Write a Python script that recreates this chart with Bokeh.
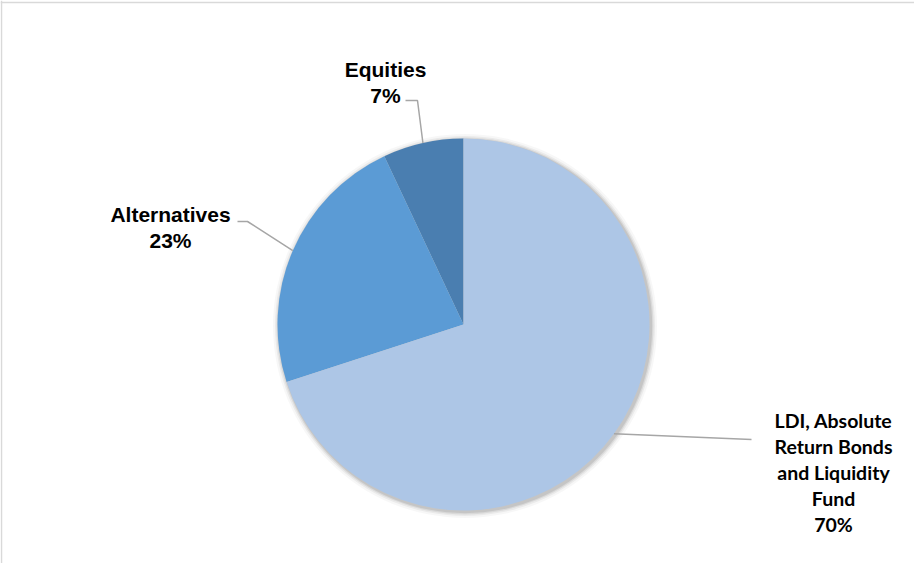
import math
from bokeh.plotting import figure
from bokeh.models import Range1d, ColumnDataSource, Span
from bokeh.core.properties import value
from bokeh.embed import file_html
from bokeh.resources import INLINE

# ---- data ----
categories = ["Equities", "Alternatives", "LDI, Absolute Return Bonds and Liquidity Fund"]
shares = [7, 23, 70]
colors = ["#4a7eb0", "#5b9bd5", "#adc6e6"]
label_lines = [["Equities", "7%"], ["Alternatives", "23%"],
               ["LDI, Absolute", "Return Bonds", "and Liquidity", "Fund", "70%"]]

W, H = 914, 563
p = figure(width=W, height=H, output_backend="svg", toolbar_location=None,
           x_range=Range1d(0, W), y_range=Range1d(0, H), min_border=0,
           tools="")
p.axis.visible = False
p.grid.visible = False
p.outline_line_color = None
p.background_fill_color = "white"
p.border_fill_color = "white"

def px(x, y):
    # page pixel -> data
    return x - 8, 571 - y

# frame lines (left and top only visible in the reference)
p.add_layout(Span(location=1, dimension="height", line_color="#d9d9d9", line_width=1.5))
p.add_layout(Span(location=px(0, 10)[1], dimension="width", line_color="#d9d9d9", line_width=1.5))

cx, cy = px(471, 332)
R = 186

# soft shadow
for dr, a in [(6, 0.03), (4, 0.05), (2.5, 0.07), (1.2, 0.09)]:
    p.circle(x=[cx + 1.5], y=[cy - 1.5], radius=R + dr, fill_color="#000000",
             fill_alpha=a, line_color=None)

total = sum(shares)
starts, ends, mids = [], [], []
a = math.pi / 2
for s in shares:
    da = 2 * math.pi * s / total
    starts.append(a)
    ends.append(a + da)
    mids.append(a + da / 2)
    a += da

src = ColumnDataSource(dict(start=starts, end=ends, color=colors))
p.wedge(x=cx, y=cy, radius=R, start_angle="start", end_angle="end",
        fill_color="color", line_color=None, source=src)

# leader lines: from slice edge to elbow/label
elbows = [[px(425, 108), px(413, 108)],
          [px(255, 229), px(245, 229)],
          [px(759, 447)]]
for m, el in zip(mids, elbows):
    xs = [cx + R * math.cos(m)] + [e[0] for e in el]
    ys = [cy + R * math.sin(m)] + [e[1] for e in el]
    p.line(xs, ys, line_color="#a6a6a6", line_width=1.5)

# labels
label_pos = [(393, 77, 26), (178, 222, 26), (841, 428, 26)]
fonts = ["Liberation Sans", "Liberation Sans", "Lato"]
sizes = ["21px", "21px", "19.5px"]
for lines, (lx, ly, step), f, sz in zip(label_lines, label_pos, fonts, sizes):
    xs, ys = [], []
    for j, _ in enumerate(lines):
        X, Y = px(lx, ly + j * step)
        xs.append(X); ys.append(Y)
    p.text(x=xs, y=ys, text=lines, text_align="center", text_baseline="middle",
           text_font=value(f), text_font_style="bold", text_font_size=sz,
           text_color="#000000")

open("out.html", "w").write(file_html(p, INLINE))
